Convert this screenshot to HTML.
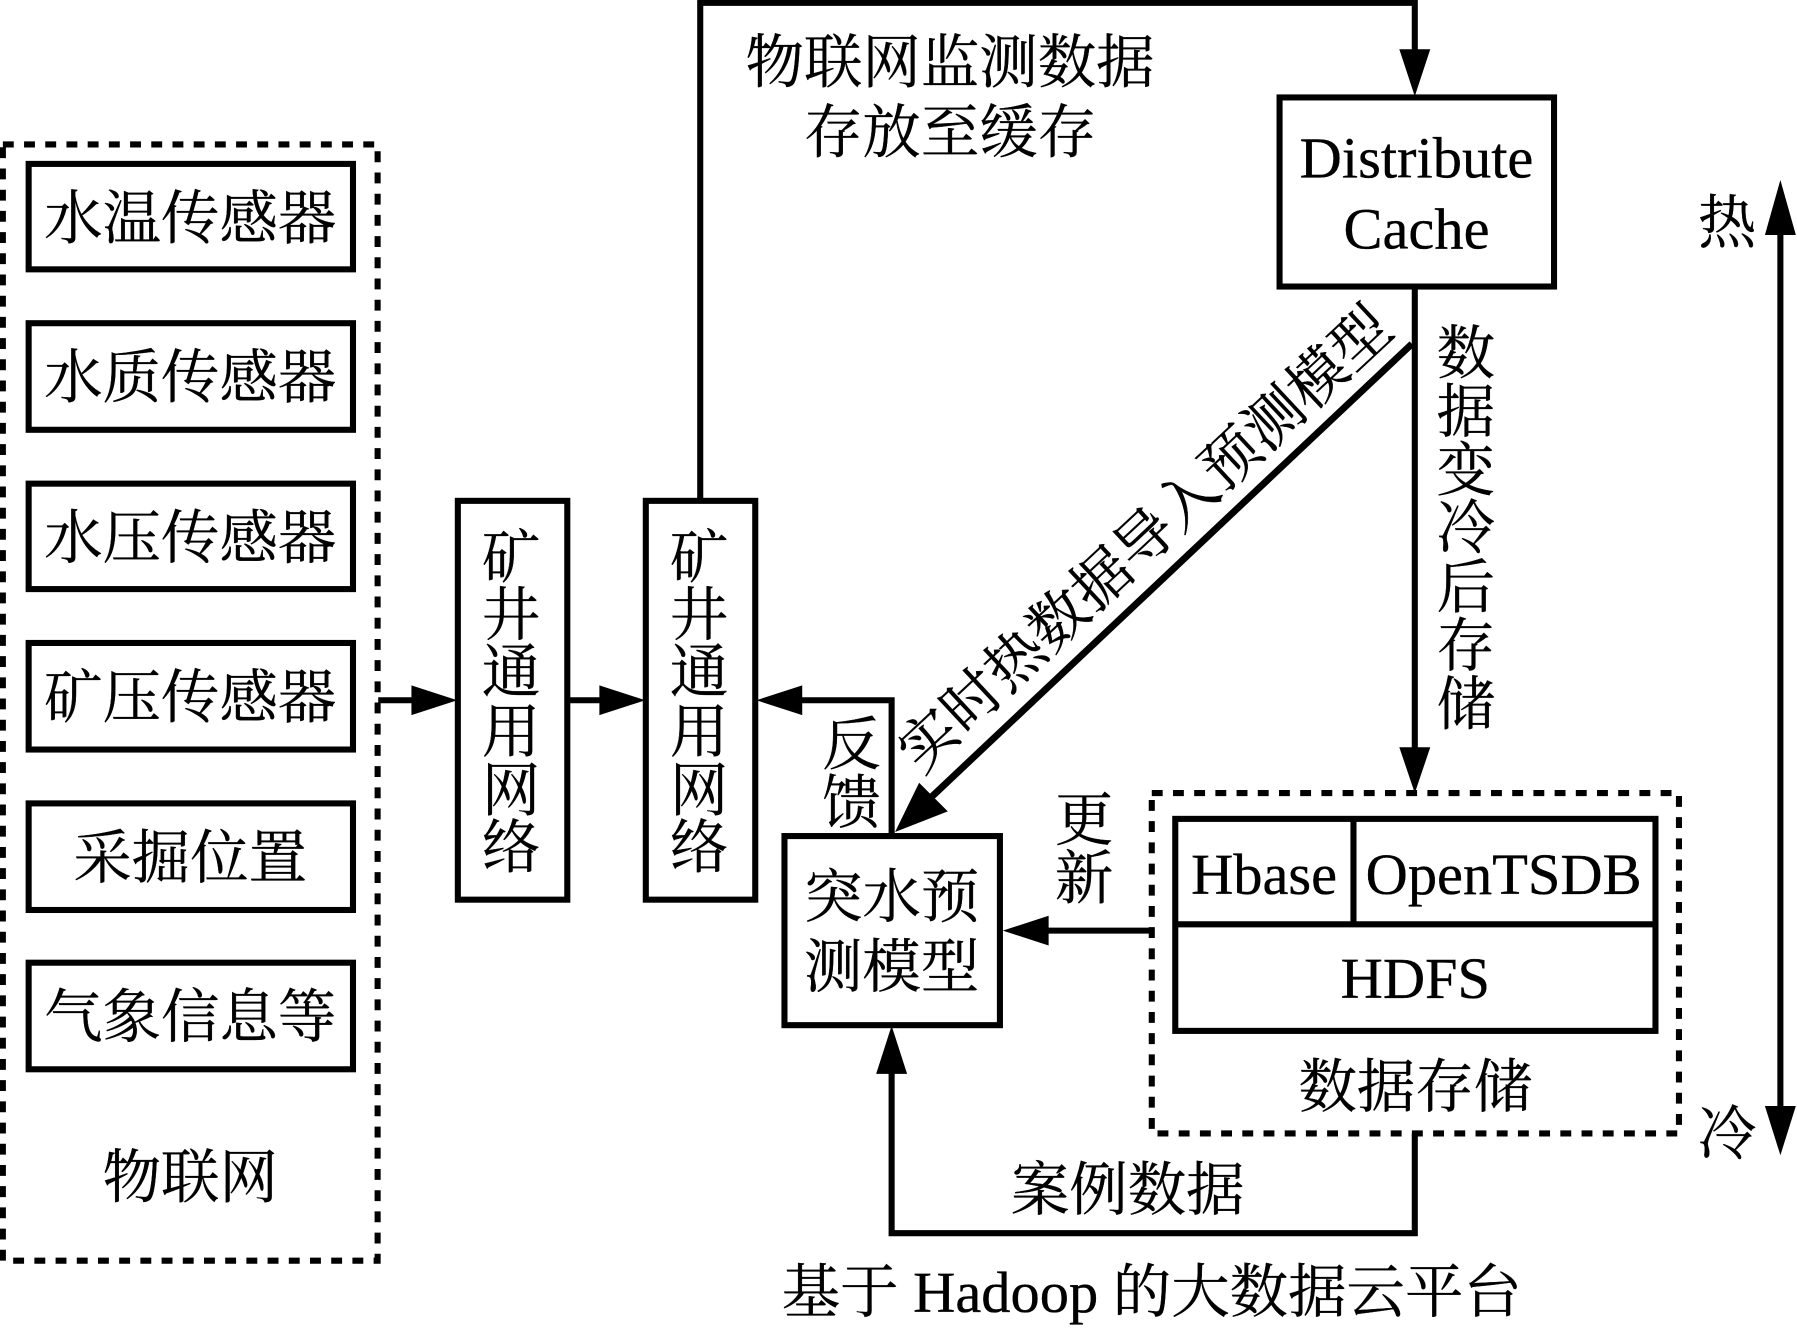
<!DOCTYPE html>
<html>
<head>
<meta charset="utf-8">
<style>
html,body{margin:0;padding:0;background:#fff;width:1797px;height:1329px;overflow:hidden}
svg{display:block}
text{fill:#000;stroke:#000;stroke-width:.3;text-anchor:middle;font-size:51px;font-family:"Liberation Serif","Noto Serif CJK SC",serif}
.b{fill:#fff;stroke:#000;stroke-width:5.3}
.l{fill:none;stroke:#000;stroke-width:5.3}
.d{fill:none;stroke:#000;stroke-width:5.3;stroke-dasharray:9.5 9}
</style>
</head>
<body>
<svg width="1797" height="1329" viewBox="0 0 1568 1159.6" xmlns="http://www.w3.org/2000/svg">
<rect width="1568" height="1160" fill="#fff"/>

<!-- IoT group -->
<rect class="d" x="2.5" y="126" width="327" height="974"/>
<rect class="b" x="25" y="143" width="283" height="92"/>
<rect class="b" x="25" y="282" width="283" height="93"/>
<rect class="b" x="25" y="422" width="283" height="92"/>
<rect class="b" x="25" y="561" width="283" height="93"/>
<rect class="b" x="25" y="701" width="283" height="93"/>
<rect class="b" x="25" y="840" width="283" height="93"/>
<text x="166" y="208">水温传感器</text>
<text x="166" y="347">水质传感器</text>
<text x="166" y="487">水压传感器</text>
<text x="166" y="626">矿压传感器</text>
<text x="166" y="766">采掘位置</text>
<text x="166" y="905">气象信息等</text>
<text x="166" y="1045">物联网</text>

<!-- Mine networks -->
<rect class="b" x="399.5" y="437" width="95.5" height="348"/>
<rect class="b" x="563.5" y="437" width="95.5" height="348"/>
<text x="446" y="504">矿</text><text x="446" y="554">井</text><text x="446" y="604">通</text><text x="446" y="656">用</text><text x="446" y="707">网</text><text x="446" y="757">络</text>
<text x="610" y="504">矿</text><text x="610" y="554">井</text><text x="610" y="604">通</text><text x="610" y="656">用</text><text x="610" y="707">网</text><text x="610" y="757">络</text>

<path class="l" d="M330 611H362"/>
<polygon points="399,611 359,598 359,624"/>
<path class="l" d="M495 611H526"/>
<polygon points="563,611 523,598 523,624"/>

<!-- Top connector -->
<path class="l" d="M611 437V2.500H1234.500V50"/>
<polygon points="1234.500,84 1221,43 1248,43"/>
<text x="829" y="72">物联网监测数据</text>
<text x="829" y="133">存放至缓存</text>

<!-- Distribute Cache -->
<rect class="b" x="1116.500" y="85" width="239.500" height="165"/>
<text x="1236" y="155">Distribute</text>
<text x="1236" y="217">Cache</text>

<!-- Down to storage -->
<path class="l" d="M1234.500 250V660"/>
<polygon points="1234.500,692 1221,652 1248,652"/>
<text x="1279" y="326">数</text><text x="1279" y="377">据</text><text x="1279" y="428">变</text><text x="1279" y="478">冷</text><text x="1279" y="530">后</text><text x="1279" y="581">存</text><text x="1279" y="632">储</text>

<!-- Diagonal -->
<path d="M1232 300L810 698" fill="none" stroke="#000" stroke-width="6"/>
<polygon points="781,726 802,683 827,708"/>
<text transform="translate(1011,483) rotate(-43)" x="0" y="0" letter-spacing=".5">实时热数据导入预测模型</text>

<!-- Feedback -->
<path class="l" d="M778 729V611H695"/>
<polygon points="660,611 700,598 700,624"/>
<text x="743" y="667">反</text><text x="743" y="718">馈</text>

<!-- Prediction model -->
<rect class="b" x="684.500" y="729.500" width="188" height="165"/>
<text x="778" y="800">突水预</text>
<text x="778" y="861">测模型</text>

<!-- Update -->
<path class="l" d="M1005 812H910"/>
<polygon points="875,812 915,799 915,825"/>
<text x="946" y="733">更</text><text x="946" y="784">新</text>

<!-- Storage -->
<rect class="d" x="1005" y="692" width="460" height="297"/>
<rect class="b" x="1025.500" y="714.500" width="419" height="185"/>
<path class="l" d="M1025 806.500H1445M1181 714V806"/>
<text x="1103" y="780">Hbase</text>
<text x="1312" y="780">OpenTSDB</text>
<text x="1235" y="871">HDFS</text>
<text x="1235" y="966">数据存储</text>

<!-- Case data -->
<path class="l" d="M1234.500 989V1076H778V930"/>
<polygon points="778,895 764.500,937 791.500,937"/>
<text x="984" y="1056">案例数据</text>
<text x="1005" y="1145">基于 Hadoop 的大数据云平台</text>

<!-- Hot / cold -->
<path class="l" d="M1553.500 195V975"/>
<polygon points="1553.500,157 1540,205 1567,205"/>
<polygon points="1553.500,1008 1540,965 1567,965"/>
<text x="1507" y="212">热</text>
<text x="1507" y="1007">冷</text>
</svg>
</body>
</html>
